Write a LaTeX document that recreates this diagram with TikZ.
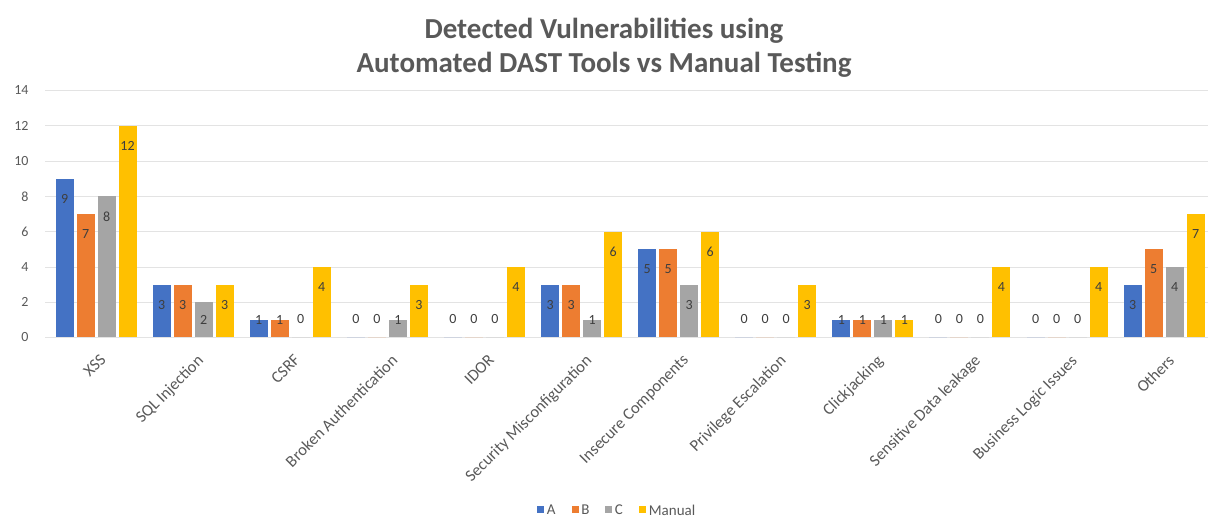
\documentclass[tikz,border=0pt]{standalone}
\usepackage{fontspec}
\setmainfont{Carlito}
\usetikzlibrary{positioning}
\definecolor{colA}{HTML}{4472C4}
\definecolor{colB}{HTML}{ED7D31}
\definecolor{colC}{HTML}{A5A5A5}
\definecolor{colM}{HTML}{FFC000}
\definecolor{txt}{HTML}{595959}
\definecolor{gridc}{HTML}{E3E3E3}
\begin{document}
\begin{tikzpicture}[x=1pt,y=1pt,
	ylab/.style={anchor=east,text=txt,font=\fontsize{14}{14}\selectfont},
	xlab/.style={anchor=north east,rotate=45,text=txt,inner sep=1pt,font=\fontsize{16.5}{16.5}\selectfont},
	val/.style={text=txt!70!black,inner sep=0pt,font=\fontsize{14}{14}\selectfont},
	legsq/.style={minimum size=7pt,inner sep=0pt},
	leglab/.style={text=txt,inner sep=0pt,font=\fontsize{15}{15}\selectfont}]
	\useasboundingbox (0,0) rectangle (1208,519);
	% title
	\node[text=txt,font=\bfseries\fontsize{29}{29}\selectfont] (title1) at (604,488) {Detected Vulnerabilities using};
	\node[text=txt,font=\bfseries\fontsize{29}{29}\selectfont] (title2) at (604,454) {Automated DAST Tools vs Manual Testing};
	% grid and axis labels
	\foreach \g in {0,2,...,14}{
		\draw[gridc] (45,181.5+\g*17.65) -- (1208,181.5+\g*17.65);
		\node[ylab] (y\g) at (32,181.5+\g*17.65) {\g};
	}
	% bars: index/name/A/B/C/Manual
	\foreach \i/\name/\va/\vb/\vc/\vm in {
		0/XSS/9/7/8/12,
		1/SQL Injection/3/3/2/3,
		2/CSRF/1/1/0/4,
		3/Broken Authentication/0/0/1/3,
		4/IDOR/0/0/0/4,
		5/Security Misconfiguration/3/3/1/6,
		6/Insecure Components/5/5/3/6,
		7/Privilege Escalation/0/0/0/3,
		8/Clickjacking/1/1/1/1,
		9/Sensitive Data leakage/0/0/0/4,
		10/Business Logic Issues/0/0/0/4,
		11/Others/3/5/4/7}{
		\pgfmathsetmacro{\cx}{47.5+97.1*(\i+0.5)}
		\foreach \v/\o/\col/\s in {\va/-31.5/colA/a,\vb/-10.5/colB/b,\vc/10.5/colC/c,\vm/31.5/colM/m}{
			\fill[\col] (\cx+\o-9,181.5) rectangle (\cx+\o+9,181.5+\v*17.65);
			\pgfmathsetmacro{\ly}{181.5+max(\v*17.65-20,18)}
			\node[val] (v\i\s) at (\cx+\o,\ly) {\v};
		}
		\node[xlab] (cat\i) at (\cx+3,167) {\name};
	}
	% legend
	\node[legsq,fill=colA] (lega) at (540.5,9) {};
	\node[leglab,right=2.5pt of lega] (legatxt) {A};
	\node[legsq,fill=colB] (legb) at (575,9) {};
	\node[leglab,right=2.5pt of legb] (legbtxt) {B};
	\node[legsq,fill=colC] (legc) at (608.5,9) {};
	\node[leglab,right=2.5pt of legc] (legctxt) {C};
	\node[legsq,fill=colM] (legm) at (642.5,9) {};
	\node[leglab,right=2.5pt of legm] (legmtxt) {Manual};
\end{tikzpicture}
\end{document}
